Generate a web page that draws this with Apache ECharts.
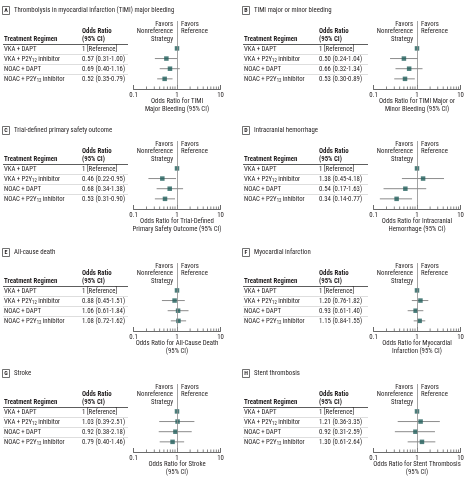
<!DOCTYPE html>
<html><head><meta charset="utf-8">
<script src="https://cdn.jsdelivr.net/npm/echarts@6/dist/echarts.min.js"></script>
<style>html,body{margin:0;padding:0;background:#fff}#c{width:467px;height:481px}</style>
</head><body><div id="c"></div><script>
// ---- data ----
const regimens = ['VKA + DAPT', 'VKA + P2Y12 inhibitor', 'NOAC + DAPT', 'NOAC + P2Y12 inhibitor'];
const panelLetters = ['A', 'B', 'C', 'D', 'E', 'F', 'G', 'H'];
const panelTitles = [
  'Thrombolysis in myocardial infarction (TIMI) major bleeding',
  'TIMI major or minor bleeding',
  'Trial-defined primary safety outcome',
  'Intracranial hemorrhage',
  'All-cause death',
  'Myocardial infarction',
  'Stroke',
  'Stent thrombosis'
];
const axisTitles = [
  ['Odds Ratio for TIMI', 'Major Bleeding (95% CI)'],
  ['Odds Ratio for TIMI Major or', 'Minor Bleeding (95% CI)'],
  ['Odds Ratio for Trial-Defined', 'Primary Safety Outcome (95% CI)'],
  ['Odds Ratio for Intracranial', 'Hemorrhage (95% CI)'],
  ['Odds Ratio for All-Cause Death', '(95% CI)'],
  ['Odds Ratio for Myocardial', 'Infarction (95% CI)'],
  ['Odds Ratio for Stroke', '(95% CI)'],
  ['Odds Ratio for Stent Thrombosis', '(95% CI)']
];
const orA = [1, 0.57, 0.69, 0.52], loA = [1, 0.31, 0.40, 0.35], hiA = [1, 1.00, 1.16, 0.79];
const orB = [1, 0.50, 0.66, 0.53], loB = [1, 0.24, 0.32, 0.30], hiB = [1, 1.04, 1.34, 0.89];
const orC = [1, 0.46, 0.68, 0.53], loC = [1, 0.22, 0.34, 0.31], hiC = [1, 0.95, 1.38, 0.90];
const orD = [1, 1.38, 0.54, 0.34], loD = [1, 0.45, 0.17, 0.14], hiD = [1, 4.18, 1.63, 0.77];
const orE = [1, 0.88, 1.06, 1.08], loE = [1, 0.45, 0.61, 0.72], hiE = [1, 1.51, 1.84, 1.62];
const orF = [1, 1.20, 0.93, 1.15], loF = [1, 0.76, 0.61, 0.84], hiF = [1, 1.82, 1.40, 1.55];
const orG = [1, 1.03, 0.92, 0.79], loG = [1, 0.39, 0.38, 0.40], hiG = [1, 2.51, 2.18, 1.46];
const orH = [1, 1.21, 0.92, 1.30], loH = [1, 0.36, 0.31, 0.61], hiH = [1, 3.35, 2.59, 2.64];
const oddsRatios = [orA, orB, orC, orD, orE, orF, orG, orH];
const lowerCI = [loA, loB, loC, loD, loE, loF, loG, loH];
const upperCI = [hiA, hiB, hiC, hiD, hiE, hiF, hiG, hiH];
const minorTickValues = [0.2, 0.3, 0.4, 0.5, 0.6, 0.7, 0.8, 0.9, 2, 3, 4, 5, 6, 7, 8, 9];

// ---- layout / style ----
const FONT = '"Roboto Condensed", "DejaVu Sans Condensed", sans-serif';
const FS = 6.8;
const TXT = '#231f20';
const MARK = '#1f5e5a';
const colX = [0, 240];
const rowY = [0, 120, 242, 363];
const oddsColRel = [82, 79];

const chart = echarts.init(document.getElementById('c'), null, {renderer: 'canvas'});
const grids = [], xAxes = [], yAxes = [], series = [], graphics = [];

function txt(x, y, s, opts) {
  graphics.push(Object.assign({
    type: 'text', silent: true,
    style: Object.assign({
      text: s, x: x, y: y, fill: TXT, fontSize: FS, fontFamily: FONT,
      align: 'left', verticalAlign: 'middle', textAlign: 'left', textVerticalAlign: 'middle',
      rich: {sub: {fontSize: 4.8, fontFamily: FONT, fill: TXT, verticalAlign: 'bottom', padding: [3, 0, 0, 0]}}
    }, opts || {})
  }));
}
function hline(x1, x2, y, color, w) {
  graphics.push({type: 'line', silent: true, shape: {x1: x1, y1: y, x2: x2, y2: y}, style: {stroke: color, lineWidth: w}});
}
function fmt(v) { return v.toFixed(2); }

for (let i = 0; i < 8; i++) {
  const col = i % 2, ox = colX[col], oy = rowY[Math.floor(i / 2)];
  const oc = ox + oddsColRel[col];
  // title
  graphics.push({type: 'rect', silent: true, shape: {x: ox + 2.5, y: oy + 6.5, width: 7, height: 8},
    style: {fill: 'none', stroke: '#333', lineWidth: 0.7}});
  txt(ox + 6, oy + 10.8, panelLetters[i], {align: 'center', textAlign: 'center', fontSize: 6, fontWeight: 'bold'});
  txt(ox + 14, oy + 10.8, panelTitles[i]);
  // favors
  txt(ox + 173, oy + 24, 'Favors', {align: 'right', textAlign: 'right'});
  txt(ox + 173, oy + 31.5, 'Nonreference', {align: 'right', textAlign: 'right'});
  txt(ox + 173, oy + 39, 'Strategy', {align: 'right', textAlign: 'right'});
  txt(ox + 181, oy + 24, 'Favors');
  txt(ox + 181, oy + 31.5, 'Reference');
  // table header
  txt(ox + 4, oy + 39, 'Treatment Regimen', {fontWeight: 'bold'});
  txt(oc, oy + 31.5, 'Odds Ratio', {fontWeight: 'bold'});
  txt(oc, oy + 39, '(95% CI)', {fontWeight: 'bold'});
  hline(ox + 3, ox + 128, oy + 44.5, '#333', 0.8);
  for (let r = 0; r < regimens.length; r++) {
    const y = oy + 49.5 + 10 * r;
    txt(ox + 4, y, regimens[r].replace(/ /g, '\u2009').replace('P2Y12', 'P2Y{sub|12}'));
    const s = r === 0 ? '1 [Reference]' :
      fmt(oddsRatios[i][r]) + ' (' + fmt(lowerCI[i][r]) + '-' + fmt(upperCI[i][r]) + ')';
    txt(oc, y, s);
    if (r < regimens.length - 1) hline(ox + 3, ox + 128, y + 5, '#c8c8c8', 0.6);
  }
  // axis titles
  txt(ox + 177, oy + 101.5, axisTitles[i][0], {align: 'center', textAlign: 'center'});
  txt(ox + 177, oy + 109, axisTitles[i][1], {align: 'center', textAlign: 'center'});

  // plot
  grids.push({left: ox + 133.5, width: 87, top: oy + 21, height: 68, containLabel: false});
  xAxes.push({
    gridIndex: i, type: 'log', logBase: 10, min: 0.1, max: 10, position: 'bottom',
    axisLine: {show: true, onZero: false, lineStyle: {color: '#444', width: 0.8}},
    axisTick: {show: true, inside: true, length: 4, lineStyle: {color: '#444', width: 0.8}},
    minorTick: {show: false},
    splitLine: {show: false},
    axisLabel: {fontSize: FS, fontFamily: FONT, color: TXT, margin: 3,
      formatter: function (v) { return String(+v.toPrecision(3)); }}
  });
  yAxes.push({gridIndex: i, type: 'value', min: -1.7, max: 5, inverse: true, show: false});

  const rows = regimens.map((_, r) => r + 1);
  series.push({
    type: 'custom', xAxisIndex: i, yAxisIndex: i, silent: true, clip: false,
    data: rows.filter(r => r > 1).map(r => [lowerCI[i][r - 1], upperCI[i][r - 1], r]),
    encode: {x: [0, 1], y: 2},
    renderItem: function (params, api) {
      const p1 = api.coord([api.value(0), api.value(2)]);
      const p2 = api.coord([api.value(1), api.value(2)]);
      return {type: 'line', shape: {x1: p1[0], y1: p1[1], x2: p2[0], y2: p2[1]},
        style: {stroke: '#8c8c8c', lineWidth: 1}};
    },
    z: 3
  });
  series.push({
    type: 'scatter', xAxisIndex: i, yAxisIndex: i, silent: true, clip: false,
    symbol: 'rect', symbolSize: 4.5,
    itemStyle: {color: MARK},
    data: rows.map(r => [oddsRatios[i][r - 1], r]),
    markLine: {symbol: 'none', silent: true, label: {show: false},
      lineStyle: {color: '#8c8c8c', width: 0.8, type: 'solid'},
      data: [{xAxis: 1}]},
    z: 4
  });
  series.push({
    type: 'scatter', xAxisIndex: i, yAxisIndex: i, silent: true, clip: false,
    symbol: 'rect', symbolSize: [0.8, 2.5], symbolOffset: [0, -1.25],
    itemStyle: {color: '#444'},
    data: minorTickValues.map(v => [v, 5]),
    z: 2
  });
}

chart.setOption({
  animation: false,
  backgroundColor: '#fff',
  grid: grids, xAxis: xAxes, yAxis: yAxes, series: series,
  graphic: {elements: graphics}
});
</script></body></html>
